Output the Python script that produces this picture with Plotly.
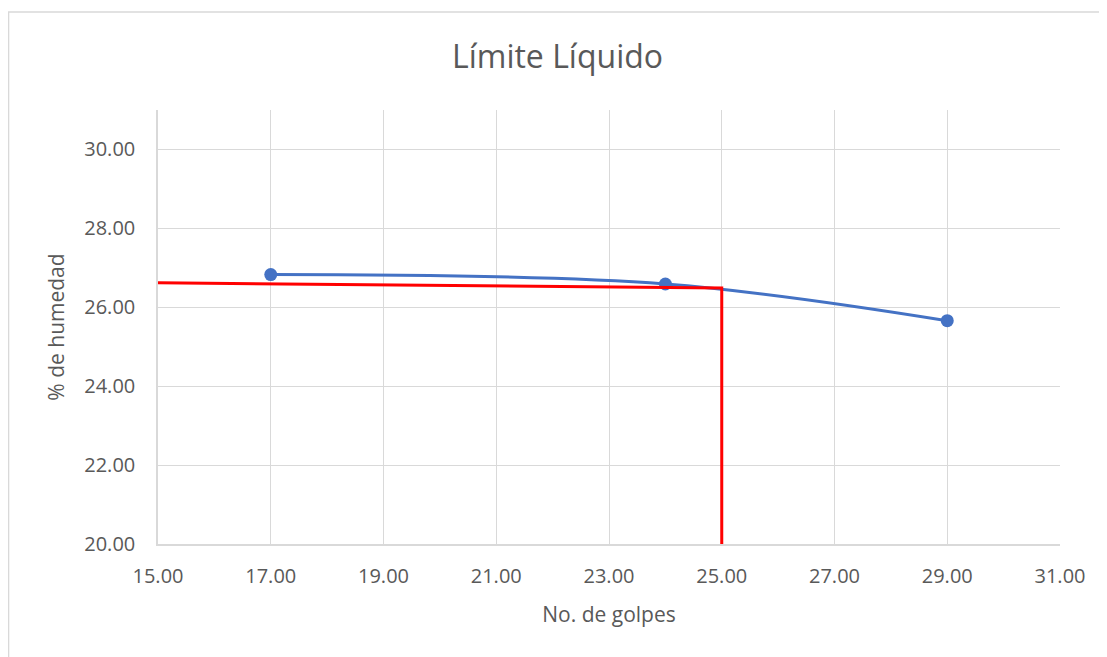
import plotly.graph_objects as go

# ==========================================================
# DATA
# ==========================================================

golpes = [17, 24, 29]
humedad = [26.83, 26.59, 25.66]

# reference line (25 blows)
ref_x = [15, 25, 25]
ref_y = [26.62, 26.49, 20]

x_ticks = [15, 17, 19, 21, 23, 25, 27, 29, 31]
y_ticks = [20, 22, 24, 26, 28, 30]

TEXT = "#595959"
GRID = "#d9d9d9"
FONT = "Open Sans"

fig = go.Figure()

fig.add_trace(go.Scatter(
    x=golpes, y=humedad,
    mode="lines+markers",
    line=dict(color="#4472C4", width=3, shape="spline", smoothing=1),
    marker=dict(color="#4472C4", size=13),
    showlegend=False,
))

fig.add_trace(go.Scatter(
    x=ref_x, y=ref_y,
    mode="lines",
    line=dict(color="#FF0000", width=3),
    showlegend=False,
))

# page body adds an 8px margin, so the figure is a bit smaller than the window
fig.update_layout(
    width=1099,
    height=649,
    paper_bgcolor="white",
    plot_bgcolor="white",
    margin=dict(l=150, r=47, t=102, b=113),
    font=dict(family=FONT, size=20, color=TEXT),
    title=dict(
        text="Límite Líquido",
        x=0.5, xanchor="center",
        y=1 - 49 / 649, yanchor="middle",
        font=dict(family=FONT, size=32, color=TEXT),
    ),
    shapes=[dict(
        type="rect", xref="paper", yref="paper",
        x0=-0.1657, x1=1.06, y0=-0.27, y1=1.2258,
        line=dict(color="#d9d9d9", width=1.5),
        layer="below",
    )],
)

fig.update_xaxes(
    range=[15, 31],
    tickvals=x_ticks,
    tickformat=".2f",
    showgrid=True, gridcolor=GRID, gridwidth=1,
    showline=True, linecolor=GRID, linewidth=1.5,
    zeroline=False,
    ticks="",
    ticklabelstandoff=13,
    title=dict(text="No. de golpes", standoff=20, font=dict(size=21, color=TEXT)),
)

fig.update_yaxes(
    range=[20, 31],
    tickvals=y_ticks,
    tickformat=".2f",
    showgrid=True, gridcolor=GRID, gridwidth=1,
    showline=True, linecolor=GRID, linewidth=1.5,
    zeroline=False,
    ticks="",
    ticklabelstandoff=17,
    title=dict(text="% de humedad", standoff=14, font=dict(size=21, color=TEXT)),
)

fig.write_html("out.html")
